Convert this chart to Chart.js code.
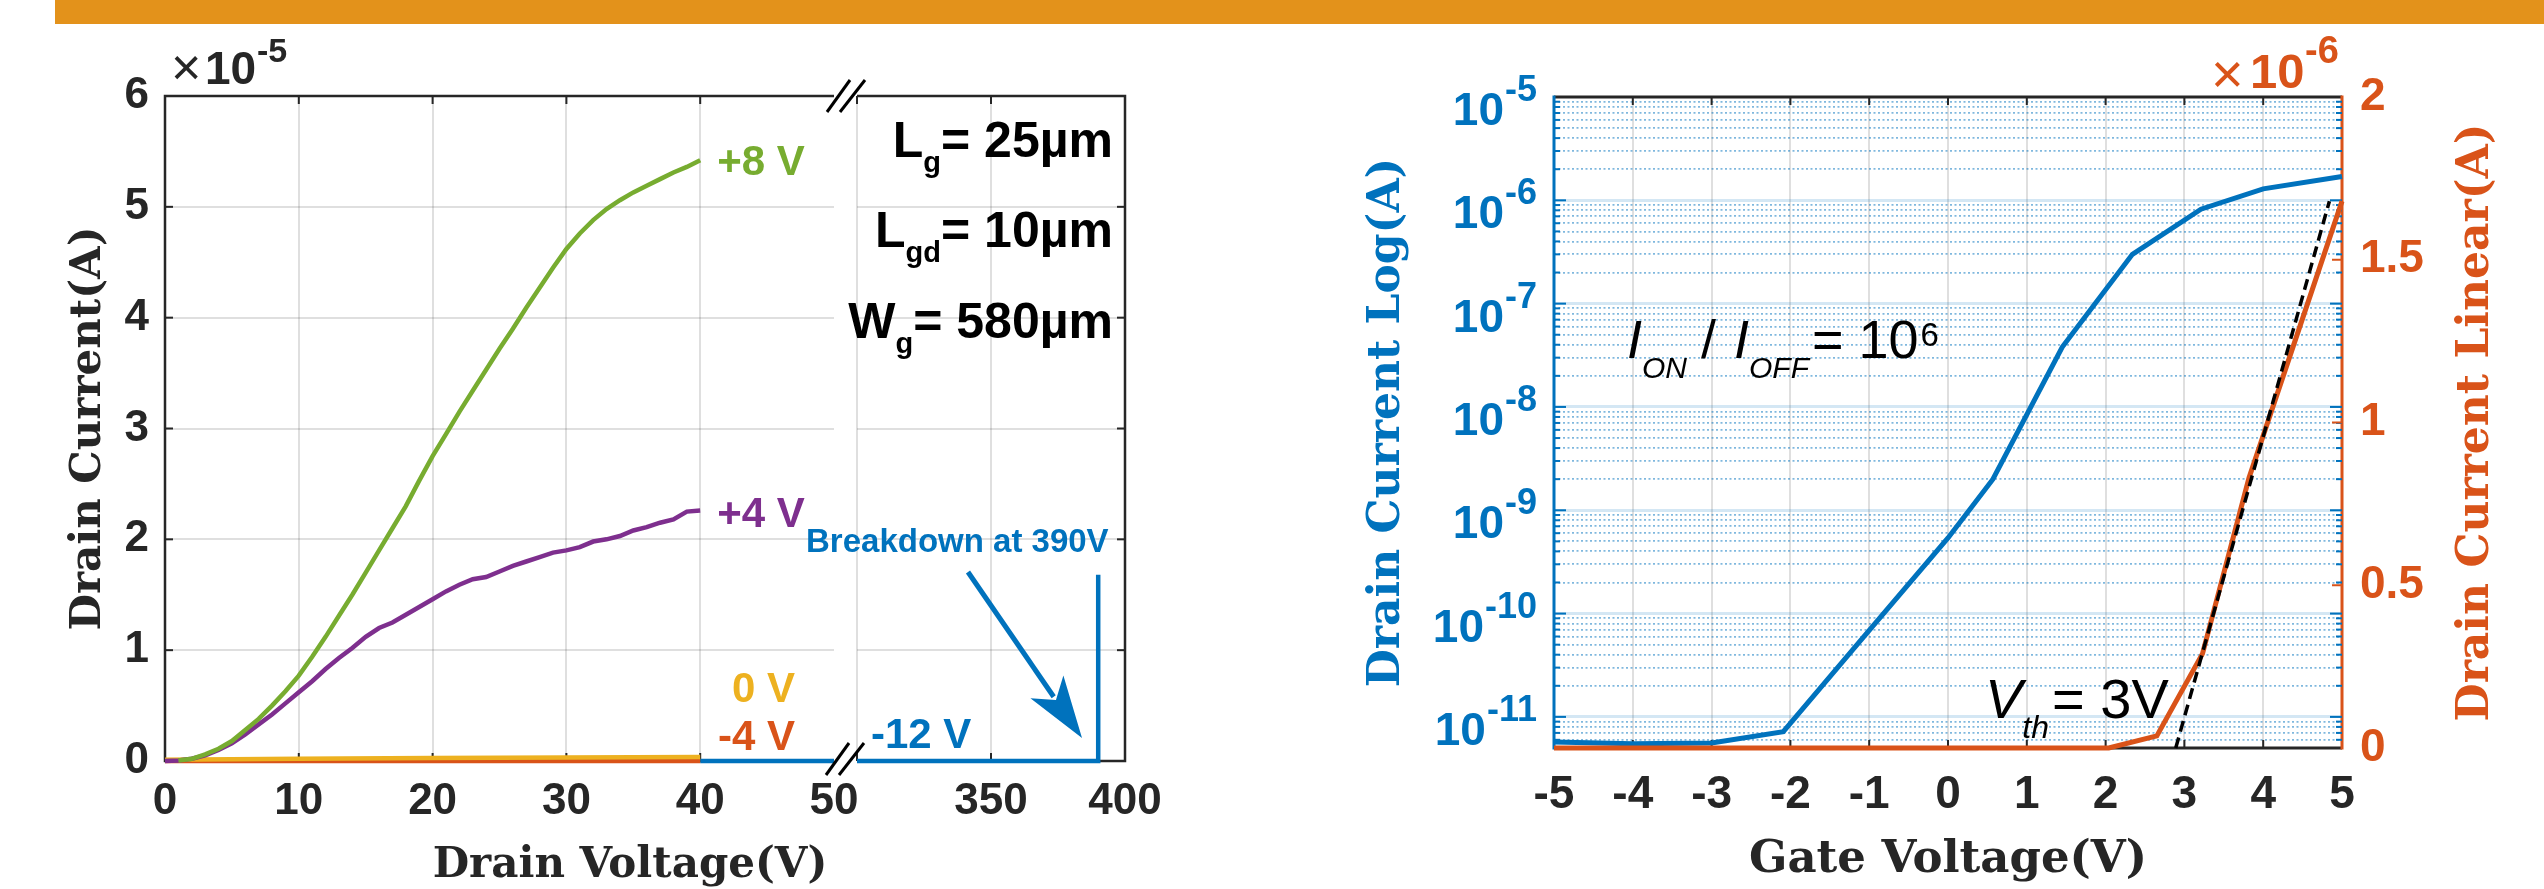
<!DOCTYPE html>
<html>
<head>
<meta charset="utf-8">
<script src="https://cdn.jsdelivr.net/npm/chart.js@4.4.0/dist/chart.umd.min.js"></script>
<style>
html,body{margin:0;padding:0;background:#fff;}
#wrap{position:relative;width:2544px;height:889px;overflow:hidden;background:#fff;}
#bar{position:absolute;left:55px;top:0;width:2489px;height:24px;background:#E3921B;}
canvas{position:absolute;left:0;top:0;}
</style>
</head>
<body>
<div id="wrap">
  <div id="bar"></div>
  <canvas id="cA" width="2544" height="889"></canvas>
  <canvas id="cB" width="2544" height="889"></canvas>
  <canvas id="cC" width="2544" height="889"></canvas>
</div>
<script>
// ================= DATA =================
// Left panel: output characteristics (current in units of 1e-5 A)
const drainVoltage = [0,1,2,3,4,5,6,7,8,9,10,11,12,13,14,15,16,17,18,19,20,21,22,23,24,25,26,27,28,29,30,31,32,33,34,35,36,37,38,39,40];
const current8V = [null,0.005,0.02,0.06,0.11,0.18,0.28,0.38,0.50,0.63,0.77,0.94,1.12,1.31,1.50,1.70,1.90,2.10,2.30,2.53,2.75,2.95,3.15,3.34,3.53,3.72,3.90,4.09,4.27,4.45,4.62,4.76,4.88,4.98,5.06,5.13,5.19,5.25,5.31,5.36,5.42];
const current4V = [0,0.005,0.02,0.05,0.10,0.16,0.24,0.33,0.42,0.52,0.62,0.72,0.83,0.93,1.02,1.12,1.20,1.25,1.32,1.39,1.46,1.53,1.59,1.64,1.66,1.71,1.76,1.80,1.84,1.88,1.90,1.93,1.98,2.00,2.03,2.08,2.11,2.15,2.18,2.25,2.26];
const drainVoltage0V = [0,10,20,30,40];
const current0V = [0.012,0.02,0.026,0.031,0.036];
const drainVoltageM4V = [0,40];
const currentM4V = [0,0];
const drainVoltageM12V = [40,390,390];
const currentM12V = [0,0,1.68];
const drainTicksLow = [0,10,20,30,40,50];
const drainTicksHigh = [300,350,400];
const drainTickLabelsHigh = ['','350','400'];
const currentTicks = [0,1,2,3,4,5,6];

// Right panel: transfer characteristics
const gateVoltageLog = [-5,-4,-3,-2.09,-1.1,0,0.57,1.45,2.34,3.21,4.0,5];
const currentLog = [5.7e-12,5.5e-12,5.6e-12,7.2e-12,5.6e-11,5.4e-10,2.0e-9,3.8e-8,3.0e-7,8.2e-7,1.29e-6,1.7e-6];
const gateVoltageLin = [-5,2.04,2.65,3.23,3.82,5];
const currentLin = [0,0,0.037,0.29,0.83,1.68];      // units of 1e-6 A
const tangentGateV = [2.89,4.84];
const tangentCurrent = [0,1.68];                     // units of 1e-6 A
const gateTicks = [-5,-4,-3,-2,-1,0,1,2,3,4,5];
const linTicks = [0,0.5,1,1.5,2];
const linTickLabels = ['0','0.5','1','1.5','2'];
const logDecades = [-11,-10,-9,-8,-7,-6,-5];

// ================= STYLE =================
const SANS = '"Liberation Sans", Arial, sans-serif';
const SERIF = '"DejaVu Serif", serif';
const DARK = '#262626';
const C_BLUE = '#0072BD', C_ORANGE = '#D95319', C_YELLOW = '#EDB120', C_PURPLE = '#7E2F8E', C_GREEN = '#77AC30';
const GRID = 'rgba(38,38,38,0.15)';
const NONE = 'rgba(0,0,0,0)';

Chart.defaults.font.family = SANS;
Chart.defaults.animation = false;
Chart.defaults.events = [];
Chart.defaults.plugins.legend.display = false;
Chart.defaults.plugins.tooltip.enabled = false;

const pts = (xs, ys) => xs.map((x, i) => ({x, y: ys[i]}));
const line = (xs, ys, color, order, width, clip, extra) => Object.assign({
  data: pts(xs, ys), borderColor: color, backgroundColor: color, borderWidth: width,
  pointRadius: 0, tension: 0, fill: false, order, clip
}, extra || {});
const setTicks = arr => s => { s.ticks = arr.map(v => ({value: v})); };

function seg(ctx, x1, y1, x2, y2) { ctx.beginPath(); ctx.moveTo(x1, y1); ctx.lineTo(x2, y2); ctx.stroke(); }
function text(ctx, s, x, y, font, color, align) {
  ctx.font = font; ctx.fillStyle = color; ctx.textAlign = align || 'left'; ctx.textBaseline = 'alphabetic';
  ctx.fillText(s, x, y); return ctx.measureText(s).width;
}
function rich(ctx, parts, x, y, color) {
  for (const p of parts) {
    if (p.gap) { x += p.gap; continue; }
    x += text(ctx, p.t, x, y + (p.dy || 0), p.f, color, 'left');
  }
  return x;
}
function breakMarks(ctx, cx, cy) {
  ctx.save(); ctx.strokeStyle = '#000'; ctx.lineWidth = 3;
  seg(ctx, cx - 19, cy + 16, cx + 4, cy - 16);
  seg(ctx, cx - 6, cy + 16, cx + 19, cy - 16);
  ctx.restore();
}

// ================= LEFT PANEL, SEGMENT 0-50 =================
const plugA = {
  id: 'plugA',
  beforeDatasetsDraw(chart) {
    const {ctx, chartArea: a, scales: {x, y}} = chart;
    ctx.save(); ctx.strokeStyle = DARK; ctx.lineWidth = 2.5;
    ctx.beginPath(); ctx.moveTo(a.right, a.top); ctx.lineTo(a.left, a.top); ctx.lineTo(a.left, a.bottom); ctx.lineTo(a.right, a.bottom); ctx.stroke();
    ctx.lineWidth = 2;
    for (const v of drainTicksLow) { if (v <= 0 || v >= 50) continue; const px = x.getPixelForValue(v); seg(ctx, px, a.top, px, a.top + 8); seg(ctx, px, a.bottom, px, a.bottom - 8); }
    for (const v of currentTicks) { if (v <= 0 || v >= 6) continue; const py = y.getPixelForValue(v); seg(ctx, a.left, py, a.left + 8, py); }
    ctx.restore();
  },
  afterDraw(chart) {
    const {ctx, scales: {x, y}} = chart;
    ctx.save();
    const xe = x.getPixelForValue(drainVoltage[drainVoltage.length - 1]) + 17;
    text(ctx, '+8 V', xe, y.getPixelForValue(current8V[current8V.length - 1]) + 15, 'bold 42px ' + SANS, C_GREEN);
    text(ctx, '+4 V', xe, y.getPixelForValue(current4V[current4V.length - 1]) + 16, 'bold 42px ' + SANS, C_PURPLE);
    text(ctx, '0 V', 795, 702, 'bold 42px ' + SANS, C_YELLOW, 'right');
    text(ctx, '-4 V', 795, 750, 'bold 42px ' + SANS, C_ORANGE, 'right');
    // x10^-5 multiplier
    text(ctx, '\u00D7', 171, 85, '52px ' + SANS, DARK);
    text(ctx, '10', 205, 84, 'bold 46px ' + SANS, DARK);
    text(ctx, '-5', 257, 62, 'bold 34px ' + SANS, DARK);
    // x-axis title spanning the broken axis
    text(ctx, 'Drain Voltage(V)', 630, 877, 'bold 42px ' + SERIF, DARK, 'center');
    ctx.restore();
  }
};

new Chart(document.getElementById('cA'), {
  type: 'line',
  data: {datasets: [
    line(drainVoltage, current8V, C_GREEN, 0, 4.5, {left: 3, right: 0, top: 0, bottom: 5}),
    line(drainVoltage, current4V, C_PURPLE, 1, 4.5, {left: 3, right: 0, top: 0, bottom: 5}),
    line(drainVoltage0V, current0V, C_YELLOW, 2, 4.5, {left: 0, right: 0, top: 0, bottom: 5}),
    line(drainVoltageM4V, currentM4V, C_ORANGE, 3, 4.5, {left: 0, right: 0, top: 0, bottom: 5}),
    line(drainVoltageM12V, currentM12V, C_BLUE, 4, 4.5, {left: 0, right: 0, top: 0, bottom: 5})
  ]},
  options: {
    responsive: false, devicePixelRatio: 1,
    layout: {padding: {left: 0, top: 96, right: 2544 - 834, bottom: 0}},
    scales: {
      x: {type: 'linear', min: 0, max: 50,
        afterBuildTicks: setTicks(drainTicksLow),
        afterFit: s => { s.height = 128; },
        grid: {color: c => (c.tick && c.tick.value > 0 && c.tick.value < 50) ? GRID : NONE, lineWidth: 2, drawTicks: false},
        border: {display: false},
        ticks: {font: {size: 44, weight: 'bold'}, color: DARK, padding: 14, maxRotation: 0, autoSkip: false}
      },
      y: {type: 'linear', min: 0, max: 6,
        afterBuildTicks: setTicks(currentTicks),
        afterFit: s => { s.width = 165; },
        grid: {color: c => (c.tick && c.tick.value > 0 && c.tick.value < 6) ? GRID : NONE, lineWidth: 2, drawTicks: false},
        border: {display: false},
        ticks: {font: {size: 44, weight: 'bold'}, color: DARK, padding: 16, autoSkip: false},
        title: {display: true, text: 'Drain Current(A)', color: DARK, font: {family: SERIF, size: 42, weight: 'bold', lineHeight: 1.2}, padding: {top: 64, bottom: 0}}
      }
    }
  },
  plugins: [plugA]
});

// ================= LEFT PANEL, SEGMENT 300-400 =================
const plugB = {
  id: 'plugB',
  beforeDatasetsDraw(chart) {
    const {ctx, chartArea: a, scales: {x, y}} = chart;
    ctx.save(); ctx.strokeStyle = DARK; ctx.lineWidth = 2.5;
    ctx.beginPath(); ctx.moveTo(a.left, a.top); ctx.lineTo(a.right, a.top); ctx.lineTo(a.right, a.bottom); ctx.lineTo(a.left, a.bottom); ctx.stroke();
    ctx.lineWidth = 2;
    for (const v of drainTicksHigh) { if (v >= 400) continue; const px = x.getPixelForValue(v); seg(ctx, px, a.top, px, a.top + 8); seg(ctx, px, a.bottom, px, a.bottom - 8); }
    for (const v of currentTicks) { if (v <= 0 || v >= 6) continue; const py = y.getPixelForValue(v); seg(ctx, a.right, py, a.right - 8, py); }
    ctx.restore();
  },
  afterDraw(chart) {
    const {ctx, chartArea: a} = chart;
    ctx.save();
    breakMarks(ctx, a.left - 11, a.top);
    breakMarks(ctx, a.left - 12, a.bottom - 2);
    text(ctx, '-12 V', 871, 748, 'bold 42px ' + SANS, C_BLUE);
    text(ctx, 'Breakdown at 390V', 806, 552, 'bold 33px ' + SANS, C_BLUE);
    // arrow
    const x1 = 968, y1 = 572, x2 = 1082, y2 = 738;
    const L = Math.hypot(x2 - x1, y2 - y1), ux = (x2 - x1) / L, uy = (y2 - y1) / L, nx = -uy, ny = ux;
    const hb = 62, hw = 20;
    ctx.strokeStyle = C_BLUE; ctx.fillStyle = C_BLUE; ctx.lineWidth = 5;
    seg(ctx, x1, y1, x2 - ux * (hb - 12), y2 - uy * (hb - 12));
    ctx.beginPath();
    ctx.moveTo(x2, y2);
    ctx.lineTo(x2 - ux * hb + nx * hw, y2 - uy * hb + ny * hw);
    ctx.lineTo(x2 - ux * (hb - 16), y2 - uy * (hb - 16));
    ctx.lineTo(x2 - ux * hb - nx * hw, y2 - uy * hb - ny * hw);
    ctx.closePath(); ctx.fill();
    // device parameters
    const params = [['L', 'g', '= 25\u00B5m', 157], ['L', 'gd', '= 10\u00B5m', 247], ['W', 'g', '= 580\u00B5m', 338]];
    for (const [m, sub, rest, base] of params) {
      ctx.font = 'bold 50px ' + SANS; const w1 = ctx.measureText(m).width, w3 = ctx.measureText(rest).width;
      ctx.font = 'bold 29px ' + SANS; const w2 = ctx.measureText(sub).width;
      let xs = 1113 - (w1 + w2 + w3);
      text(ctx, m, xs, base, 'bold 50px ' + SANS, '#000');
      text(ctx, sub, xs + w1, base + 15, 'bold 29px ' + SANS, '#000');
      text(ctx, rest, xs + w1 + w2, base, 'bold 50px ' + SANS, '#000');
    }
    ctx.restore();
  }
};

new Chart(document.getElementById('cB'), {
  type: 'line',
  data: {datasets: [
    line(drainVoltageM12V, currentM12V, C_BLUE, 0, 4.5, {left: 0, right: 3, top: 0, bottom: 5})
  ]},
  options: {
    responsive: false, devicePixelRatio: 1,
    layout: {padding: {left: 857, top: 96, right: 2544 - 1125, bottom: 0}},
    scales: {
      x: {type: 'linear', min: 300, max: 400,
        afterBuildTicks: setTicks(drainTicksHigh),
        afterFit: s => { s.height = 128; },
        grid: {color: c => (c.tick && c.tick.value < 400) ? GRID : NONE, lineWidth: 2, drawTicks: false},
        border: {display: false},
        ticks: {font: {size: 44, weight: 'bold'}, color: DARK, padding: 14, maxRotation: 0, autoSkip: false,
          callback: (v, i) => drainTickLabelsHigh[i]}
      },
      y: {type: 'linear', min: 0, max: 6,
        afterBuildTicks: setTicks(currentTicks),
        afterFit: s => { s.width = 0; },
        grid: {color: c => (c.tick && c.tick.value > 0 && c.tick.value < 6) ? GRID : NONE, lineWidth: 2, drawTicks: false},
        border: {display: false},
        ticks: {display: false}
      }
    }
  },
  plugins: [plugB]
});

// ================= RIGHT PANEL =================
const isDecade = v => { const e = Math.floor(Math.log10(v) + 1e-9); return Math.abs(v / Math.pow(10, e) - 1) < 1e-6; };
const logGridValues = [];
for (let e = logDecades[0] - 1; e <= logDecades[logDecades.length - 1]; e++) {
  for (let m = 1; m <= 9; m++) { const v = m * Math.pow(10, e); if (v > 5.01e-12 && v <= 1.0001e-5) logGridValues.push(v); }
}

const plugC = {
  id: 'plugC',
  beforeDatasetsDraw(chart) {
    const {ctx, chartArea: a, scales: {x, yLog, yLin}} = chart;
    ctx.save(); ctx.lineWidth = 3;
    ctx.strokeStyle = DARK; seg(ctx, a.left, a.top, a.right, a.top); seg(ctx, a.left, a.bottom, a.right, a.bottom);
    ctx.strokeStyle = C_BLUE; seg(ctx, a.left, a.top - 1.5, a.left, a.bottom + 1.5);
    ctx.strokeStyle = C_ORANGE; seg(ctx, a.right, a.top - 1.5, a.right, a.bottom + 1.5);
    ctx.lineWidth = 2; ctx.strokeStyle = DARK;
    for (const v of gateTicks) { if (v <= -5 || v >= 5) continue; const px = x.getPixelForValue(v); seg(ctx, px, a.top, px, a.top + 8); seg(ctx, px, a.bottom, px, a.bottom - 8); }
    ctx.strokeStyle = C_BLUE;
    for (const v of logGridValues) {
      if (v >= 1e-5) continue;
      const py = yLog.getPixelForValue(v), len = isDecade(v) ? 12 : 6;
      seg(ctx, a.left, py, a.left + len, py); seg(ctx, a.right, py, a.right - len, py);
    }
    ctx.strokeStyle = C_ORANGE;
    for (const v of linTicks) { if (v <= 0 || v >= 2) continue; const py = yLin.getPixelForValue(v); seg(ctx, a.right, py, a.right - 10, py); }
    ctx.restore();
  },
  afterDraw(chart) {
    const {ctx, chartArea: a, scales: {yLog}} = chart;
    ctx.save();
    for (const e of logDecades) {
      const yy = yLog.getPixelForValue(Math.pow(10, e));
      ctx.font = 'bold 36px ' + SANS; const we = ctx.measureText(String(e)).width;
      text(ctx, String(e), 1537, yy + 4, 'bold 36px ' + SANS, C_BLUE, 'right');
      text(ctx, '10', 1537 - we - 1, yy + 28, 'bold 46px ' + SANS, C_BLUE, 'right');
    }
    // right axis title (reads bottom-to-top, like MATLAB)
    ctx.save();
    ctx.translate(2477, (a.top + a.bottom) / 2);
    ctx.rotate(-Math.PI / 2);
    ctx.font = 'bold 44px ' + SERIF; ctx.fillStyle = C_ORANGE; ctx.textAlign = 'center'; ctx.textBaseline = 'middle';
    ctx.fillText('Drain Current Linear(A)', 0, 0);
    ctx.restore();
    // x10^-6 multiplier
    text(ctx, '\u00D7', 2211, 93, '56px ' + SANS, C_ORANGE);
    text(ctx, '10', 2250, 88, 'bold 49px ' + SANS, C_ORANGE);
    text(ctx, '-6', 2305, 63, 'bold 38px ' + SANS, C_ORANGE);
    // I_ON / I_OFF = 10^6
    rich(ctx, [
      {t: 'I', f: 'italic 54px ' + SANS},
      {t: 'ON', f: 'italic 30px ' + SANS, dy: 20},
      {gap: 14},
      {t: '/', f: '54px ' + SANS},
      {gap: 18},
      {t: 'I', f: 'italic 54px ' + SANS},
      {t: 'OFF', f: 'italic 30px ' + SANS, dy: 20},
      {gap: 3},
      {t: '= 10', f: '54px ' + SANS},
      {gap: 2},
      {t: '6', f: '33px ' + SANS, dy: -12}
    ], 1627, 358, '#000');
    // V_th = 3V
    rich(ctx, [
      {t: 'V', f: 'italic 56px ' + SANS},
      {t: 'th', f: 'italic 32px ' + SANS, dy: 20},
      {gap: 3},
      {t: '= 3V', f: '56px ' + SANS}
    ], 1985, 718, '#000');
    ctx.restore();
  }
};

new Chart(document.getElementById('cC'), {
  type: 'line',
  data: {datasets: [
    line(tangentGateV, tangentCurrent, '#000', 0, 3.5, {left: 0, right: 3, top: 0, bottom: 3}, {yAxisID: 'yLin', borderDash: [11, 6]}),
    line(gateVoltageLin, currentLin, C_ORANGE, 1, 5, {left: 3, right: 3, top: 0, bottom: 5}, {yAxisID: 'yLin'}),
    line(gateVoltageLog, currentLog, C_BLUE, 2, 5, {left: 3, right: 3, top: 0, bottom: 5}, {yAxisID: 'yLog'})
  ]},
  options: {
    responsive: false, devicePixelRatio: 1,
    layout: {padding: {left: 1300, top: 97, right: 0, bottom: 0}},
    scales: {
      x: {type: 'linear', min: -5, max: 5,
        afterBuildTicks: setTicks(gateTicks),
        afterFit: s => { s.height = 141; },
        grid: {color: c => (c.tick && c.tick.value > -5 && c.tick.value < 5) ? GRID : NONE, lineWidth: 2, drawTicks: false},
        border: {display: false},
        ticks: {font: {size: 46, weight: 'bold'}, color: DARK, padding: 20, maxRotation: 0, autoSkip: false},
        title: {display: true, text: 'Gate Voltage(V)', color: DARK, font: {family: SERIF, size: 45, weight: 'bold', lineHeight: 1.0}, padding: {top: 0, bottom: 6}}
      },
      yLog: {type: 'logarithmic', position: 'left', min: 5e-12, max: 1e-5,
        afterBuildTicks: setTicks(logGridValues),
        afterFit: s => { s.width = 254; },
        grid: {
          color: c => (!c.tick || c.tick.value >= 0.999e-5) ? NONE : (isDecade(c.tick.value) ? 'rgba(0,114,189,0.17)' : 'rgba(0,114,189,0.5)'),
          lineWidth: c => (c.tick && isDecade(c.tick.value)) ? 3 : 1.8,
          drawTicks: false
        },
        border: {display: false, dash: c => (c.tick && !isDecade(c.tick.value)) ? [2, 2.5] : []},
        ticks: {display: false, autoSkip: false},
        title: {display: true, text: 'Drain Current Log(A)', color: C_BLUE, font: {family: SERIF, size: 44, weight: 'bold', lineHeight: 1.2}, padding: {top: 61, bottom: 0}}
      },
      yLin: {type: 'linear', position: 'right', min: 0, max: 2,
        afterBuildTicks: setTicks(linTicks),
        afterFit: s => { s.width = 202; },
        grid: {drawOnChartArea: false, drawTicks: false},
        border: {display: false},
        ticks: {font: {size: 46, weight: 'bold'}, color: C_ORANGE, padding: 18, autoSkip: false,
          callback: (v, i) => linTickLabels[i]}
      }
    }
  },
  plugins: [plugC]
});
</script>
</body>
</html>
